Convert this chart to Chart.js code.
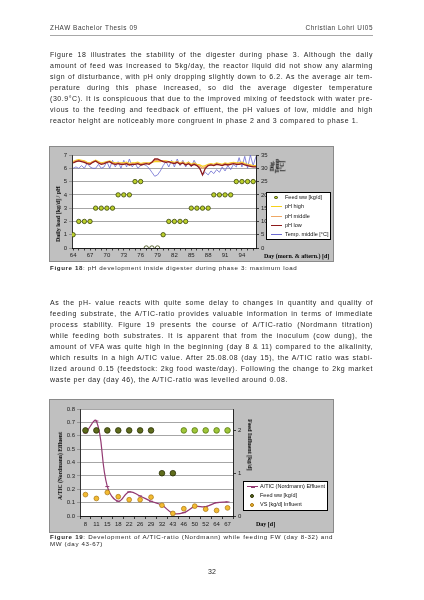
<!DOCTYPE html>
<html>
<head>
<meta charset="utf-8">
<title>ZHAW Bachelor Thesis 09 - page 32</title>
<script src="https://cdn.jsdelivr.net/npm/chart.js@4.4.1/dist/chart.umd.min.js"></script>
<style>
  html, body { margin: 0; padding: 0; background: #fff; }
  body { position: relative; width: 424px; height: 600px; overflow: hidden;
         font-family: "Liberation Sans", Arial, sans-serif; color: #1e1e1e; }
  .abs { position: absolute; will-change: transform; }
  .head { top: 24px; font-size: 6.4px; letter-spacing: 0.55px; line-height: 8px; color: #3a3a3a; }
  .rule { left: 50px; top: 35px; width: 323px; height: 1.4px; background: #a8a8a8; }
  .para { left: 50px; width: 323px; font-size: 7px; letter-spacing: 0.56px; line-height: 11px; color: #262626; }
  .para div { text-align: justify; text-align-last: justify; }
  .para div.last { text-align-last: left; }
  .cap { left: 50px; font-size: 6.2px; letter-spacing: 0.62px; line-height: 6.8px; color: #262626; }
  .cap div { text-align: justify; text-align-last: justify; }
  .cap div.last { text-align-last: left; }
  .chartbox { background: #c0c0c0; outline: 1px solid #8a8a8a; }
  .ttl { font-family: "Liberation Serif", "Times New Roman", serif; font-weight: bold;
         font-size: 6px; line-height: 6px; color: #000; white-space: nowrap; }
  .rot-l { transform: translate(-50%, -50%) rotate(-90deg); text-align: center; }
  .rot-r { transform: translate(-50%, -50%) rotate(90deg); text-align: center; }
  .legend { background: #fff; outline: 0.8px solid #000; font-size: 5.5px; color: #111; }
  .legend .row { position: absolute; left: 0; right: 0; height: 9px; line-height: 9px; white-space: nowrap; }
  .legend .txt { position: absolute; top: 0; }
  .legend .ln { position: absolute; top: 4px; height: 1.2px; }
  .legend .dot { position: absolute; top: 2.6px; width: 3.4px; height: 3.4px; border-radius: 50%; box-sizing: border-box; }
  .legend .dash { position: absolute; top: 3.6px; width: 4px; height: 2px; }
</style>
</head>
<body>

<div class="abs head" style="left:50px">ZHAW Bachelor Thesis 09</div>
<div class="abs head" style="left:50px;width:323px;text-align:right">Christian Lohri UI05</div>
<div class="abs rule"></div>

<div class="abs para" style="top:48.8px">
  <div>Figure 18 illustrates the stability of the digester during phase 3. Although the daily</div>
  <div>amount of feed was increased to 5kg/day, the reactor liquid did not show any alarming</div>
  <div>sign of disturbance, with pH only dropping slightly down to 6.2. As the average air tem-</div>
  <div>perature during this phase increased, so did the average digester temperature</div>
  <div>(30.9°C). It is conspicuous that due to the improved mixing of feedstock with water pre-</div>
  <div>vious to the feeding and feedback of effluent, the pH values of low, middle and high</div>
  <div class="last">reactor height are noticeably more congruent in phase 2 and 3 compared to phase 1.</div>
</div>

<!-- Figure 18 -->
<div class="abs chartbox" style="left:50px;top:147px;width:283px;height:114px">
  <canvas id="phChart"></canvas>
</div>
<div class="abs ttl rot-l" style="left:58px;top:214px">Daily load [kg/d] / pH</div>
<div class="abs ttl rot-l" style="left:276.5px;top:166px;line-height:4.8px">Dig.<br>Temp<br>[°C]</div>
<div class="abs ttl" style="left:264px;top:252.5px">Day (morn. &amp; aftern.) [d]</div>
<div class="abs legend" style="left:267px;top:193px;width:63px;height:46px">
  <div class="row" style="top:0px"><span class="dot" style="left:7.3px;background:#bccf2c;border:0.7px solid #39450a"></span><span class="txt" style="left:18px">Feed ww [kg/d]</span></div>
  <div class="row" style="top:9.25px"><span class="ln" style="left:4px;width:11px;background:#f7d11a"></span><span class="txt" style="left:18px">pH high</span></div>
  <div class="row" style="top:18.5px"><span class="ln" style="left:4px;width:11px;background:#eea865"></span><span class="txt" style="left:18px">pH middle</span></div>
  <div class="row" style="top:27.75px"><span class="ln" style="left:4px;width:11px;background:#8e1b1b"></span><span class="txt" style="left:18px">pH low</span></div>
  <div class="row" style="top:37px"><span class="ln" style="left:4px;width:11px;height:0.9px;background:#6b6bd1"></span><span class="txt" style="left:18px">Temp. middle [°C]</span></div>
</div>
<div class="abs cap" style="top:264.6px"><b>Figure 18</b>: pH development inside digester during phase 3: maximum load</div>

<div class="abs para" style="top:296.8px">
  <div>As the pH- value reacts with quite some delay to changes in quantity and quality of</div>
  <div>feeding substrate, the A/TIC-ratio provides valuable information in terms of immediate</div>
  <div>process stability. Figure 19 presents the course of A/TIC-ratio (Nordmann titration)</div>
  <div>while feeding both substrates. It is apparent that from the inoculum (cow dung), the</div>
  <div>amount of VFA was quite high in the beginning (day 8 &amp; 11) compared to the alkalinity,</div>
  <div>which results in a high A/TIC value. After 25.08.08 (day 15), the A/TIC ratio was stabi-</div>
  <div>lized around 0.15 (feedstock: 2kg food waste/day). Following the change to 2kg market</div>
  <div class="last">waste per day (day 46), the A/TIC-ratio was levelled around 0.08.</div>
</div>

<!-- Figure 19 -->
<div class="abs chartbox" style="left:50px;top:400px;width:283px;height:132px">
  <canvas id="aticChart"></canvas>
</div>
<div class="abs ttl rot-l" style="left:59.5px;top:466px;font-size:5.6px">A/TIC (Nordmann) Effluent</div>
<div class="abs ttl rot-r" style="left:250px;top:445px">Feed Influent [kg/d]</div>
<div class="abs ttl" style="left:256px;top:521px">Day [d]</div>
<div class="abs legend" style="left:244px;top:482px;width:83px;height:28px">
  <div class="row" style="top:0px"><span class="ln" style="left:3px;width:11px;background:#933a72"></span><span class="dash" style="left:6.5px;background:#933a72"></span><span class="txt" style="left:16px">A/TIC (Nordmann) Effluent</span></div>
  <div class="row" style="top:9.2px"><span class="dot" style="left:5.8px;width:4px;height:4px;top:2.5px;background:#5f6c1c;border:0.7px solid #2b3208"></span><span class="txt" style="left:16px">Feed ww [kg/d]</span></div>
  <div class="row" style="top:18.4px"><span class="dot" style="left:5.8px;width:4px;height:4px;top:2.5px;background:#f3bb32;border:0.7px solid #a77410"></span><span class="txt" style="left:16px">VS [kg/d] Influent</span></div>
</div>
<div class="abs cap" style="top:534.3px;width:283px">
  <div><b>Figure 19</b>: Development of A/TIC-ratio (Nordmann) while feeding FW (day 8-32) and</div>
  <div class="last">MW (day 43-67)</div>
</div>

<div class="abs" style="left:0;width:424px;top:568px;text-align:center;font-size:7px;line-height:7px;color:#262626">32</div>

<script>
// ---- Figure 18: phase 3, maximum load ----
const feedDays = [64, 65, 66, 67, 68, 69, 70, 71, 72, 73, 74, 75, 76, 77, 78, 79, 80,
                  81, 82, 83, 84, 85, 86, 87, 88, 89, 90, 91, 92, 93, 94, 95, 96];
const feedLoad = [1, 2, 2, 2, 3, 3, 3, 3, 4, 4, 4, 5, 5, 0, 0, 0, 1,
                  2, 2, 2, 2, 3, 3, 3, 3, 4, 4, 4, 4, 5, 5, 5, 5];

// morning & afternoon readings
const halfDays = [64, 64.5, 65, 65.5, 66, 66.5, 67, 67.5, 68, 68.5, 69, 69.5, 70, 70.5,
                  71, 71.5, 72, 72.5, 73, 73.5, 74, 74.5, 75, 75.5, 76, 76.5, 77, 77.5,
                  78, 78.5, 79, 79.5, 80, 80.5, 81, 81.5, 82, 82.5, 83, 83.5, 84, 84.5,
                  85, 85.5, 86, 86.5, 87, 87.5, 88, 88.5, 89, 89.5, 90, 90.5, 91, 91.5,
                  92, 92.5, 93, 93.5, 94, 94.5, 95, 95.5, 96, 96.5];
const phHigh = [6.5, 6.6, 6.65, 6.6, 6.55, 6.45, 6.4, 6.5, 6.6, 6.5, 6.4, 6.45, 6.5, 6.55,
                6.45, 6.4, 6.4, 6.4, 6.4, 6.45, 6.35, 6.4, 6.4, 6.45, 6.35, 6.4, 6.4, 6.4,
                6.45, 6.5, 6.5, 6.5, 6.55, 6.55, 6.5, 6.5, 6.45, 6.5, 6.4, 6.45, 6.35, 6.45,
                6.3, 6.4, 6.3, 6.25, 6.15, 6.2, 6.3, 6.35, 6.3, 6.4, 6.35, 6.3, 6.4, 6.35,
                6.4, 6.45, 6.4, 6.4, 6.45, 6.35, 6.3, 6.25, 6.2, 6.2];
const phMiddle = [6.45, 6.55, 6.6, 6.55, 6.5, 6.4, 6.35, 6.5, 6.55, 6.45, 6.35, 6.4, 6.5, 6.5,
                  6.4, 6.35, 6.4, 6.35, 6.35, 6.4, 6.3, 6.35, 6.35, 6.4, 6.3, 6.35, 6.4, 6.35,
                  6.45, 6.6, 6.6, 6.55, 6.55, 6.5, 6.5, 6.45, 6.4, 6.5, 6.35, 6.45, 6.3, 6.4,
                  6.25, 6.35, 6.25, 6.15, 6.0, 6.1, 6.25, 6.3, 6.25, 6.35, 6.3, 6.25, 6.35, 6.3,
                  6.35, 6.4, 6.35, 6.35, 6.4, 6.3, 6.25, 6.2, 6.15, 6.15];
const phLow = [6.4, 6.5, 6.55, 6.5, 6.45, 6.35, 6.3, 6.45, 6.55, 6.4, 6.3, 6.35, 6.45, 6.5,
               6.35, 6.3, 6.35, 6.3, 6.3, 6.35, 6.25, 6.3, 6.3, 6.35, 6.25, 6.3, 6.35, 6.3,
               6.45, 6.7, 6.7, 6.6, 6.5, 6.45, 6.5, 6.4, 6.35, 6.45, 6.3, 6.4, 6.25, 6.35,
               6.2, 6.3, 6.2, 6.0, 5.5, 6.0, 6.2, 6.25, 6.2, 6.3, 6.25, 6.2, 6.3, 6.25,
               6.3, 6.35, 6.3, 6.3, 6.35, 6.25, 6.2, 6.15, 6.1, 6.1];
const tempMiddle = [30, 30.5, 30, 31, 30, 32, 30.5, 30, 30, 31.5, 30, 30.5, 32.5, 30,
                    33, 30.5, 32.5, 30, 33, 30.5, 33.5, 30.5, 32, 30, 31, 31.5, 31, 30,
                    28.5, 27, 27.5, 29, 31, 32.5, 30.5, 33, 30.5, 33.5, 31, 33, 30.5, 32.5,
                    30.5, 33, 31, 30, 27.5, 28.5, 27.5, 29, 28, 29.5, 28.5, 30.5, 29, 31,
                    29.5, 31.5, 30.5, 34, 30.5, 34.5, 30, 35, 31, 34.5];
const dayTickStart = 64;   // labels every third day from here

// ---- Figure 19: A/TIC ratio ----
const sampleDays = ['8', '11', '15', '18', '22', '26', '29', '32', '43', '46', '50', '52', '64', '67'];
const aticRatio  = [0.62, 0.71, 0.22, 0.11, 0.18, 0.15, 0.11, 0.08, 0.02, 0.025, 0.07, 0.07, 0.10, 0.105];
const feedWW     = [2, 2, 2, 2, 2, 2, 2, 1, 1, 2, 2, 2, 2, 2];
const vsInfluent = [0.50, 0.41, 0.55, 0.45, 0.38, 0.38, 0.44, 0.25, 0.06, 0.17, 0.23, 0.16, 0.13, 0.19];

Chart.defaults.font.family = '"Liberation Sans", Arial, sans-serif';
Chart.defaults.font.size = 6;
Chart.defaults.color = '#222';
Chart.defaults.animation = false;
Chart.defaults.plugins.legend.display = false;
Chart.defaults.plugins.tooltip.enabled = false;

// white plot area on the grey chart box
const plotBg = {
  id: 'plotBg',
  beforeDraw(chart) {
    const { ctx, chartArea } = chart;
    ctx.save();
    ctx.fillStyle = '#ffffff';
    ctx.fillRect(chartArea.left, chartArea.top, chartArea.width, chartArea.height);
    ctx.restore();
  }
};

// pin axis boxes so the plot area lands where it is in the thesis
const fixSize = (w, h) => scale => {
  if (w != null) scale.width = w;
  if (h != null) scale.height = h;
};

const axisBorder = { color: '#000', width: 0.8 };
const pairs = (xs, ys) => xs.map((x, i) => ({ x: x, y: ys[i] }));

new Chart(document.getElementById('phChart'), {
  type: 'line',
  data: {
    datasets: [
      {
        label: 'Feed ww [kg/d]',
        data: pairs(feedDays, feedLoad),
        yAxisID: 'y',
        showLine: false,
        pointRadius: 2.2,
        pointBorderWidth: 0.8,
        pointBackgroundColor: c => (c.raw && c.raw.y === 0 ? '#ffffff' : '#bccf2c'),
        pointBorderColor: '#39450a'
      },
      { label: 'pH low', data: pairs(halfDays, phLow), yAxisID: 'y',
        borderColor: '#8e1b1b', borderWidth: 1.3, pointRadius: 0 },
      { label: 'pH middle', data: pairs(halfDays, phMiddle), yAxisID: 'y',
        borderColor: '#eea865', borderWidth: 1.3, pointRadius: 0 },
      { label: 'pH high', data: pairs(halfDays, phHigh), yAxisID: 'y',
        borderColor: '#f7d11a', borderWidth: 1.3, pointRadius: 0 },
      { label: 'Temp. middle [°C]', data: pairs(halfDays, tempMiddle), yAxisID: 'y2',
        borderColor: '#6b6bd1', borderWidth: 0.8, pointRadius: 0 }
    ]
  },
  options: {
    responsive: true,
    maintainAspectRatio: false,
    layout: { padding: { top: 8, left: 0, right: 0, bottom: 0 } },
    scales: {
      x: {
        type: 'linear', min: 63.8, max: 96.5,
        afterFit: fixSize(null, 13),
        ticks: {
          stepSize: 1, includeBounds: false, autoSkip: false, maxRotation: 0, padding: 1,
          callback: v => ((v - dayTickStart) % 3 === 0 ? String(v) : '')
        },
        grid: { drawOnChartArea: false, tickLength: 2.5, color: '#000', lineWidth: 0.7 },
        border: axisBorder
      },
      y: {
        min: 0, max: 7,
        afterFit: fixSize(22),
        ticks: { stepSize: 1, padding: 2 },
        grid: { color: '#808080', lineWidth: 0.7, tickLength: 3 },
        border: axisBorder
      },
      y2: {
        position: 'right', min: 0, max: 35,
        afterFit: fixSize(77),
        ticks: { stepSize: 5, padding: 2 },
        grid: { drawOnChartArea: false, tickLength: 3, color: '#000', lineWidth: 0.7 },
        border: axisBorder
      }
    }
  },
  plugins: [plotBg]
});

new Chart(document.getElementById('aticChart'), {
  type: 'line',
  data: {
    labels: sampleDays,
    datasets: [
      {
        label: 'Feed ww [kg/d]',
        data: feedWW,
        yAxisID: 'y2',
        showLine: false,
        pointRadius: 2.8,
        pointBorderWidth: 0.8,
        pointBackgroundColor: c => (c.dataIndex < 9 ? '#5f6c1c' : '#9fc63a'),
        pointBorderColor: c => (c.dataIndex < 9 ? '#2b3208' : '#587a14')
      },
      {
        label: 'VS [kg/d] Influent',
        data: vsInfluent,
        yAxisID: 'y2',
        showLine: false,
        pointRadius: 2.4,
        pointBorderWidth: 0.7,
        pointBackgroundColor: '#f3bb32',
        pointBorderColor: '#a77410'
      },
      {
        label: 'A/TIC (Nordmann) Effluent',
        data: aticRatio,
        yAxisID: 'y',
        borderColor: '#933a72',
        borderWidth: 1.2,
        tension: 0.4,
        pointStyle: 'line',
        pointRadius: 2,
        pointBorderWidth: 1,
        pointBorderColor: '#933a72'
      }
    ]
  },
  options: {
    responsive: true,
    maintainAspectRatio: false,
    layout: { padding: { top: 9, left: 0, right: 0, bottom: 0 } },
    scales: {
      x: {
        offset: true,
        afterFit: fixSize(null, 16),
        ticks: { autoSkip: false, maxRotation: 0, padding: 2 },
        grid: { drawOnChartArea: false, offset: true, tickLength: 3, color: '#000', lineWidth: 0.7 },
        border: axisBorder
      },
      y: {
        min: 0, max: 0.8,
        afterFit: fixSize(30),
        ticks: { stepSize: 0.1, padding: 2, callback: v => v.toFixed(1) },
        grid: { color: '#808080', lineWidth: 0.7, tickLength: 3 },
        border: axisBorder
      },
      y2: {
        position: 'right', min: 0, max: 2.5,
        afterFit: fixSize(100),
        ticks: { stepSize: 1, includeBounds: false, padding: 2 },
        grid: { drawOnChartArea: false, tickLength: 3, color: '#000', lineWidth: 0.7 },
        border: axisBorder
      }
    }
  },
  plugins: [plotBg]
});
</script>
</body>
</html>
